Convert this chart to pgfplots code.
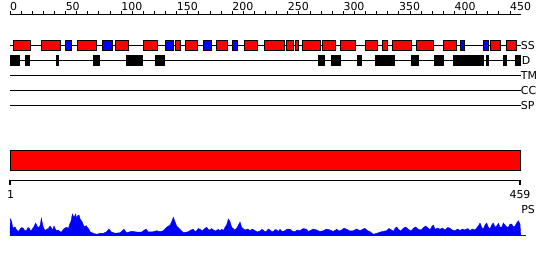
\documentclass[border=0pt]{standalone}
\usepackage{pgfplots}
\pgfplotsset{compat=1.18}
\usepackage{pgfplotstable}
\usepackage{fontspec}
\setmainfont{DejaVu Sans}
\definecolor{ssred}{RGB}{255,0,0}
\definecolor{ssblue}{RGB}{0,0,255}
\newcommand{\bx}[5]{\addplot[fill=#5, draw=black, line width=1bp] coordinates {(#1,#3) (#2,#3) (#2,#4) (#1,#4)} --cycle;}
\newcommand{\ssR}[2]{\bx{#1}{#2}{40}{50.5}{ssred}}
\newcommand{\ssB}[2]{\bx{#1}{#2}{40}{50.5}{ssblue}}
\newcommand{\dD}[2]{\addplot[fill=black, draw=black, line width=0.5bp] coordinates {(#1,55.3) (#2,55.3) (#2,65.7) (#1,65.7)} --cycle;}
\pgfplotstableread{
r h
0 0
0.3 16
1.5 13.3
2.2 9
3 6.7
4.5 8
6 5
7.5 3.5
9 5.7
10.5 7.5
12 6.7
13.5 4
15 5
16.2 7.5
17.4 6.7
18.5 4
19.5 5
20.7 7
21.9 9
23 12
24 10
25.2 7
26.4 8.3
27.3 10
28.2 17
29.1 12
30 7.7
31.5 4.5
33 5.7
34.5 6.5
36 9
37.5 6.7
38.5 5
39.6 9
40.8 6
42 4.3
43.5 5
45 3.3
46.5 3
48 5.7
49.5 7
51 7.7
52.5 6.5
54 11.7
55 14
56.1 21
57.6 17.7
59.1 21
59.9 16
60.6 19
62.1 20
62.8 17
63.6 15
64.5 14
65.4 11.7
66.5 9
67.5 8.3
68.5 9.5
69.6 7.7
70.8 6
72 3.3
73.5 2.5
75 1.7
78 0.7
81 1.7
84 1.7
87 3.3
89.1 6
90.9 3.3
94.5 1.7
99 2.3
102.6 5.7
105 2.3
109.5 3.7
114 3
118.5 3
122.4 6
124.5 3
129 3.3
132 4.3
135 3.3
138 4.3
141 7.7
144 10
145.5 13.3
147 17.7
148.5 13.3
150 9
153 5.7
156 2.3
160.5 3.3
162.8 5
165 5.7
166.5 3.5
168 4.3
169.5 6.5
171 5.7
173 4
175.5 6.7
177 7.7
178.5 5.5
180 5
181.5 6.5
183 5
185 4
187.5 5.7
189 4
190.5 5.7
192 4.5
193.5 7.7
195 10
196.5 16
198 13.3
199.5 7.7
202.5 5
204.6 7.7
207 13
208.5 7.7
211.5 5
214 6
216 4.3
218 6
220.5 4.3
222.5 3
225 4
226.5 5.5
228 5
229.5 3
231 4
232.5 6
234 5
235.5 3.5
237 3.3
238.5 5.5
240 5
241.5 3.5
243 5.7
245 3.5
247.5 4.3
249.5 6
252 5.7
254 4
256.5 3.3
258.5 5
261 4.3
264 6.5
267 5.7
268.5 3.5
270 4.3
273 6
276 5
279 3.5
282 4.3
285 6
288 5
291 3.5
294 5.7
296 4
298.5 5
300.5 7
303 5.7
306 4
309 4.3
312 6
315 4.3
317 5.5
319.5 6.7
321.5 4.5
324 3.3
327 0.7
330 1.7
334.5 3.3
339 4.3
341 6.5
343.5 5
345 3.5
346.5 6.7
348 8
349.5 5.7
351.5 4
354 6.7
356 8
358.5 5.7
361 4
363 6.7
365 8
367.5 5.7
370 5
372 7.3
374 9
376.5 6.7
378 5
379.5 8.3
381 10
382.5 5.7
385 7
387 5.7
389 7
391.5 5
394 7.5
396 6.7
398 5
400.5 4.3
403 6
405 4.3
407 6
409.5 5
412 6.5
414 4.3
416 6
418.5 5
420 7
421.5 9
423 12
424.5 7.7
426 6
427.5 10
429 12
430.5 7.7
432 6
433.5 10
435 12
436.5 7.7
438 9
439.5 11.7
441 8
442.5 7.7
444 12
445.5 10
447 8
448.5 7.7
450 11
451.5 11
453 8
454.5 9
456 12
457.5 14.3
459 11
459.6 0
}\pstable
\begin{document}
\fontsize{11}{13}\selectfont
\begin{tikzpicture}
\begin{axis}[
  width=550bp, height=260bp, scale only axis,
  xmin=-9, xmax=486, ymin=0, ymax=260, y dir=reverse,
  hide axis, clip=false]
% bounding box
\addplot[draw=none] coordinates {(-9,0) (486,260)};
% top ruler
\addplot[black, line width=1.2bp] coordinates {(0,14.5) (459.6,14.5)};
\pgfplotsinvokeforeach{0,10,...,450}{\addplot[black, line width=1bp] coordinates {(#1,11.3) (#1,14.5)};}
\pgfplotsinvokeforeach{0,50,...,450}{\node[anchor=south west, inner sep=0pt] at (axis cs:#1,11.2) {#1};}
% track lines
\addplot[black, line width=1bp] coordinates {(0,45.3) (459.6,45.3)};
\addplot[black, line width=1bp] coordinates {(0,60.8) (459.6,60.8)};
\addplot[black, line width=1bp] coordinates {(0,75.3) (459.6,75.3)};
\addplot[black, line width=1bp] coordinates {(0,90.3) (459.6,90.3)};
\addplot[black, line width=1bp] coordinates {(0,105.3) (459.6,105.3)};
% SS
\ssR{3}{18.6}
\ssR{28.2}{45.3}
\ssB{49.8}{55.5}
\ssR{60.3}{78}
\ssB{83}{92.4}
\ssR{94.8}{106.5}
\ssR{120}{133}
\ssB{139.8}{147.3}
\ssR{148.8}{153.6}
\ssR{157.8}{168.6}
\ssB{174}{181.5}
\ssR{186}{196}
\ssB{200}{205}
\ssR{211}{222.6}
\ssR{229}{247}
\ssR{249}{255}
\ssR{257}{260}
\ssR{263}{279}
\ssR{281}{293}
\ssR{297}{311}
\ssR{319.5}{331}
\ssR{335}{340}
\ssR{344}{361}
\ssR{366}{381}
\ssR{390}{402}
\ssB{405.6}{409}
\ssB{426}{430.5}
\ssR{432}{441.6}
\ssR{446.7}{456}
% D
\dD{0.3}{8}
\dD{13.5}{17}
\dD{41.7}{43.2}
\dD{74.7}{80}
\dD{104.4}{119.4}
\dD{130.5}{138.6}
\dD{277}{282.6}
\dD{289}{297.6}
\dD{312.3}{316}
\dD{328.5}{345.6}
\dD{361}{367}
\dD{381.6}{390.3}
\dD{398.7}{426.3}
\dD{428.4}{430.8}
\dD{444.3}{447}
\dD{454.5}{459.6}
% labels
\node[anchor=west, inner sep=0pt] at (axis cs:459.6,45.5) {SS};
\node[anchor=west, inner sep=0pt] at (axis cs:460.5,60.5) {D};
\node[anchor=west, inner sep=0pt] at (axis cs:459.6,75.5) {TM};
\node[anchor=west, inner sep=0pt] at (axis cs:459.6,90.3) {CC};
\node[anchor=west, inner sep=0pt] at (axis cs:459.6,105.3) {SP};
% red bar
\bx{0}{459}{150}{170.5}{ssred}
% bottom ruler
\addplot[black, line width=1.2bp] coordinates {(0,185) (0,180.5) (459,180.5) (459,185)};
\node[anchor=north, inner sep=0pt] at (axis cs:0.5,190.5) {1};
\node[anchor=north, inner sep=0pt] at (axis cs:459,190.5) {459};
\node[anchor=west, inner sep=0pt] at (axis cs:460,210) {PS};
% PS profile
\addplot[fill=ssblue, draw=ssblue, line width=0.4bp] table[x=r, y expr=235-\thisrow{h}] {\pstable} --cycle;
\addplot[ssblue, line width=0.8bp] coordinates {(0,235) (464.4,235)};
\end{axis}
\end{tikzpicture}
\end{document}
